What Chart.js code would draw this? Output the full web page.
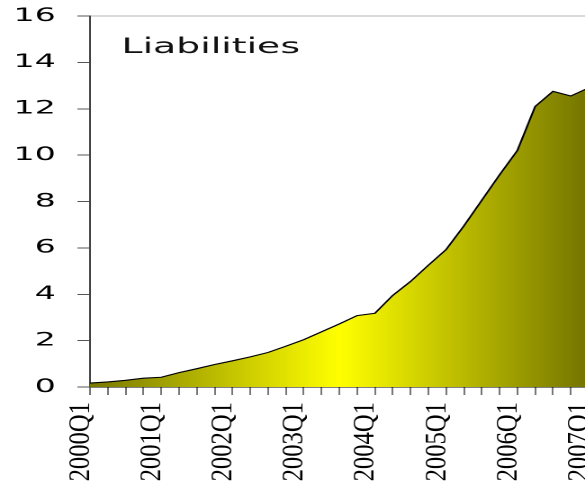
<!DOCTYPE html>
<html>
<head>
<meta charset="utf-8">
<script src="https://cdn.jsdelivr.net/npm/chart.js@4/dist/chart.umd.min.js"></script>
<style>
  html, body { margin: 0; padding: 0; background: #fff; overflow: hidden; width: 585px; height: 486px; }
  #wrap { position: absolute; left: 0; top: 0; width: 340px; height: 486px;
          transform: scaleX(1.8); transform-origin: 0 0; }
  canvas { display: block; }
</style>
</head>
<body>
<div id="wrap"><canvas id="chart" width="340" height="486"></canvas></div>
<script>
// Quarterly categories
const quarters = [
  '2000Q1','2000Q2','2000Q3','2000Q4',
  '2001Q1','2001Q2','2001Q3','2001Q4',
  '2002Q1','2002Q2','2002Q3','2002Q4',
  '2003Q1','2003Q2','2003Q3','2003Q4',
  '2004Q1','2004Q2','2004Q3','2004Q4',
  '2005Q1','2005Q2','2005Q3','2005Q4',
  '2006Q1','2006Q2','2006Q3','2006Q4',
  '2007Q1'
];

// Liabilities per quarter
const liabilities = [
  0.17, 0.22, 0.29, 0.38,
  0.42, 0.62, 0.79, 0.97,
  1.13, 1.30, 1.49, 1.76,
  2.04, 2.38, 2.72, 3.08,
  3.18, 3.95, 4.55, 5.25,
  5.93, 6.95, 8.05, 9.15,
  10.2, 12.1, 12.75, 12.55,
  12.9
];

const yTicks = [0, 2, 4, 6, 8, 10, 12, 14, 16];
const chartTitle = 'Liabilities';

// Olive → yellow → olive horizontal fill
function areaFill(context) {
  const { ctx, chartArea } = context.chart;
  if (!chartArea) return '#cccc00';
  const g = ctx.createLinearGradient(chartArea.left, 0, chartArea.right, 0);
  g.addColorStop(0, '#787800');
  g.addColorStop(0.5, '#ffff00');
  g.addColorStop(1, '#747400');
  return g;
}

// In-plot title text
const titlePlugin = {
  id: 'plotTitle',
  afterDatasetsDraw(chart) {
    const ctx = chart.ctx;
    ctx.save();
    ctx.fillStyle = '#111';
    ctx.font = '21px "DejaVu Sans"';
    ctx.textAlign = 'left';
    ctx.textBaseline = 'alphabetic';
    ctx.fillText(chartTitle, 67.5, 53);
    ctx.restore();
  }
};

// Vertical year labels under each first quarter
const yearLabels = {
  id: 'yearLabels',
  afterDraw(chart) {
    const ctx = chart.ctx;
    const xs = chart.scales.x;
    const base = chart.chartArea.bottom;
    ctx.save();
    ctx.fillStyle = '#000';
    ctx.font = '17px "Liberation Serif"';
    ctx.textAlign = 'right';
    ctx.textBaseline = 'alphabetic';
    quarters.forEach((q, i) => {
      if (!q.endsWith('Q1')) return;
      const x = xs.getPixelForValue(i);
      ctx.save();
      ctx.translate(x - 0.6, base + 15);
      ctx.rotate(-Math.PI / 2);
      ctx.scale(1.45, 1);
      ctx.fillText(q, 0, 0);
      ctx.restore();
    });
    ctx.restore();
  }
};

new Chart(document.getElementById('chart'), {
  type: 'line',
  data: {
    labels: quarters,
    datasets: [{
      data: liabilities,
      borderColor: '#000',
      borderWidth: 1.1,
      pointRadius: 0,
      tension: 0,
      fill: 'origin',
      backgroundColor: areaFill
    }]
  },
  options: {
    responsive: false,
    animation: false,
    devicePixelRatio: 2,
    layout: { padding: { top: 16, right: 13, bottom: 91, left: 0 } },
    plugins: { legend: { display: false }, tooltip: { enabled: false } },
    scales: {
      x: {
        type: 'category',
        offset: false,
        ticks: { display: false, autoSkip: false },
        grid: { display: true, drawOnChartArea: false, drawTicks: true, tickLength: 8, tickColor: '#777', lineWidth: 1 },
        border: { display: true, color: '#000', width: 1 }
      },
      y: {
        min: 0,
        max: 16,
        afterBuildTicks(scale) { scale.ticks = yTicks.map(v => ({ value: v })); },
        afterFit(scale) { scale.width = 50; scale.paddingTop = 0; scale.paddingBottom = 0; },
        ticks: { color: '#000', font: { family: 'DejaVu Sans', size: 18.5 }, padding: 12 },
        grid: {
          display: true,
          drawOnChartArea: true,
          tickLength: 7,
          tickColor: '#555',
          color: (c) => (c.tick && c.tick.value === 16) ? '#b4b4b4' : 'rgba(0,0,0,0)'
        },
        border: { display: true, color: '#444', width: 1 }
      }
    }
  },
  plugins: [titlePlugin, yearLabels]
});
</script>
</body>
</html>
